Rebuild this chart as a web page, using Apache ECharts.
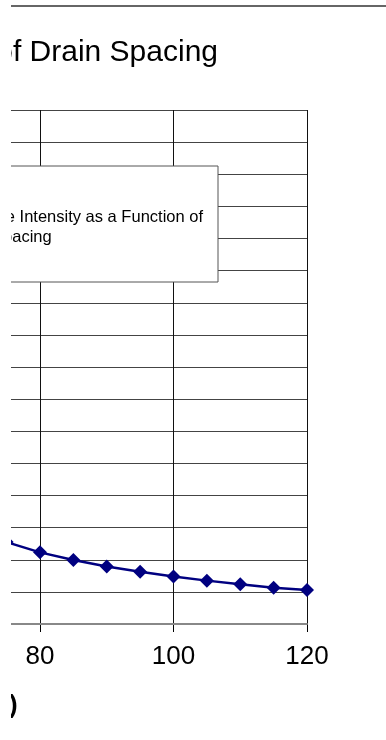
<!DOCTYPE html>
<html><head><meta charset="utf-8">
<script src="https://cdn.jsdelivr.net/npm/echarts@6/dist/echarts.min.js"></script>
<style>
html,body{margin:0;padding:0;background:#fff;width:386px;height:740px;overflow:hidden;}
#clip{position:absolute;left:11px;top:0;width:375px;height:740px;overflow:hidden;background:#fff;}
#chart{position:absolute;left:-571px;top:0;width:946px;height:740px;}
</style></head><body>
<div id="clip"><div id="chart"></div></div>
<script>
// Data
const spacing = [75, 80, 85, 90, 95, 100, 105, 110, 115, 120];
const intensity = [2.55, 2.23, 1.99, 1.79, 1.625, 1.48, 1.35, 1.24, 1.13, 1.06];
const xTicks = [0, 20, 40, 60, 80, 100, 120];
const yTicks = [0, 1, 2, 3, 4, 5, 6, 7, 8, 9, 10, 11, 12, 13, 14, 15, 16];
const seriesName = 'Drainage Intensity as a Function of Drain Spacing';
const titleText = 'Drainage Intensity as a Function of Drain Spacing';
const xAxisName = 'Drain Spacing (m)';

const FONT = 'Arial, "Liberation Sans", sans-serif';
const chart = echarts.init(document.getElementById('chart'), null, {renderer: 'canvas'});
const xStep = xTicks[1] - xTicks[0];
const yStep = yTicks[1] - yTicks[0];

chart.setOption({
  animation: false,
  backgroundColor: '#fff',
  title: {
    text: titleText,
    right: 168, top: 38, padding: 0,
    textStyle: {fontFamily: FONT, fontSize: 30, fontWeight: 'normal', color: '#000'}
  },
  legend: {
    data: [seriesName],
    right: 168, top: 166,
    padding: [41, 15, 35, 12],
    backgroundColor: '#fff',
    borderColor: '#555', borderWidth: 1, borderRadius: 0,
    itemWidth: 30, itemHeight: 12,
    formatter: () => 'Drainage Intensity as a Function of\nDrain Spacing',
    textStyle: {fontFamily: FONT, fontSize: 16.5, lineHeight: 20, color: '#000'}
  },
  graphic: [{
    type: 'line', silent: true, z: 10,
    shape: {x1: 0, y1: 6, x2: 946, y2: 6},
    style: {stroke: '#666', lineWidth: 2}
  }],
  grid: {left: 66, right: 79, top: 110, bottom: 116, show: false},
  xAxis: [{
    type: 'value', position: 'bottom',
    min: xTicks[0], max: xTicks[xTicks.length - 1], interval: xStep,
    name: xAxisName, nameLocation: 'middle', nameGap: 69,
    nameTextStyle: {fontFamily: FONT, fontSize: 26, fontWeight: 'bold', color: '#000'},
    axisLine: {show: true, lineStyle: {color: '#000', width: 2}},
    axisTick: {show: true, inside: false, length: 8, lineStyle: {color: '#000', width: 1}},
    axisLabel: {margin: 20, fontFamily: FONT, fontSize: 26, color: '#000'},
    splitLine: {show: true, lineStyle: {color: '#111', width: 1}}
  }, {
    type: 'value', position: 'top',
    min: xTicks[0], max: xTicks[xTicks.length - 1], interval: xStep,
    axisLine: {show: true, lineStyle: {color: '#888', width: 2}},
    axisTick: {show: false}, axisLabel: {show: false}, splitLine: {show: false}, z: 3
  }],
  yAxis: [{
    type: 'value', position: 'left',
    min: yTicks[0], max: yTicks[yTicks.length - 1], interval: yStep,
    axisLine: {show: false}, axisTick: {show: false},
    axisLabel: {fontFamily: FONT, fontSize: 26, color: '#000'},
    splitLine: {show: true, lineStyle: {color: '#444', width: 1}}
  }, {
    type: 'value', position: 'right',
    min: yTicks[0], max: yTicks[yTicks.length - 1], interval: yStep,
    axisLine: {show: true, lineStyle: {color: '#888', width: 2.5}},
    axisTick: {show: false}, axisLabel: {show: false}, splitLine: {show: false}, z: 3
  }],
  series: [{
    name: seriesName,
    type: 'line',
    xAxisIndex: 0, yAxisIndex: 0,
    data: spacing.map((s, i) => [s, intensity[i]]),
    symbol: 'diamond', symbolSize: 14,
    showSymbol: true,
    lineStyle: {color: '#000080', width: 2.5},
    itemStyle: {color: '#000080'},
    z: 5
  }]
});
</script>
</body></html>
